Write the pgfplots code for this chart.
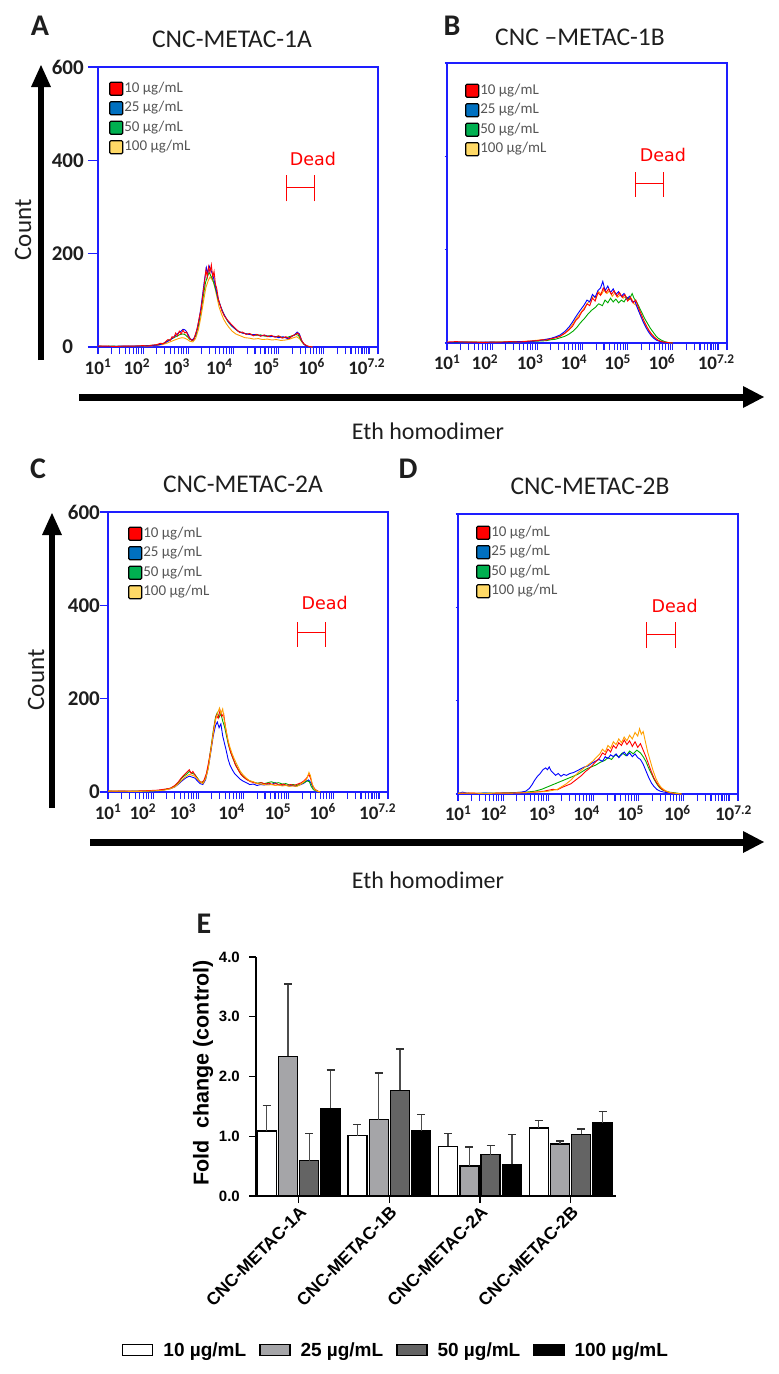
\documentclass[border=0pt]{standalone}
\usepackage{fontspec}
\setmainfont{Carlito}
\newfontfamily\arial{Liberation Sans}
\newfontfamily\dejavu{DejaVu Sans}
\usepackage{pgfplots}
\pgfplotsset{compat=1.18}
\definecolor{cRed}{RGB}{255,0,0}
\definecolor{cBlue}{RGB}{0,0,255}
\definecolor{cGreen}{RGB}{0,170,0}
\definecolor{cOrange}{RGB}{255,160,0}
\definecolor{lRed}{RGB}{255,0,0}
\definecolor{lBlue}{RGB}{0,112,192}
\definecolor{lGreen}{RGB}{0,176,80}
\definecolor{lYellow}{RGB}{255,217,102}
\definecolor{frameBlue}{RGB}{30,30,255}
\definecolor{g1}{RGB}{165,165,168}
\definecolor{g2}{RGB}{100,100,100}
\definecolor{txt}{RGB}{30,30,30}
\definecolor{legtxt}{RGB}{85,85,85}
\newcommand{\fs}[1]{\fontsize{#1}{#1}\selectfont}
\newcommand{\tl}[1]{10\textsuperscript{#1}}
\pgfplotsset{
  hist/.style={
    scale only axis, width=280pt, height=280pt,
    xmin=1, xmax=7.2, ymin=0, ymax=600,
    axis line style={frameBlue, line width=1.3pt},
    every tick/.style={frameBlue, line width=1.1pt},
    tick align=outside, xtick pos=bottom, ytick pos=left,
    major x tick style={draw=none},
    minor xtick={1,1.301,1.477,1.602,1.699,1.778,1.845,1.903,1.954,
      2,2.301,2.477,2.602,2.699,2.778,2.845,2.903,2.954,
      3,3.301,3.477,3.602,3.699,3.778,3.845,3.903,3.954,
      4,4.301,4.477,4.602,4.699,4.778,4.845,4.903,4.954,
      5,5.301,5.477,5.602,5.699,5.778,5.845,5.903,5.954,
      6,6.301,6.477,6.602,6.699,6.778,6.845,6.903,6.954,7,7.2},
    minor tick length=7pt,
    ytick={0,200,400,600},
    xticklabel style={font=\fs{19}\bfseries, text=txt, anchor=base, inner sep=0pt},
    yticklabel style={font=\fs{21}\bfseries, text=txt, inner sep=0pt},
    legend image code/.code={\draw[##1, draw=black, line width=1.1pt, rounded corners=1.2pt] (0pt,-6.5pt) rectangle (13pt,6.5pt);},
    legend style={draw=none, fill=none, anchor=north west, at={(axis description cs:0,1)}, inner sep=0pt,
      font=\fs{15}, text=legtxt, row sep=4.5pt, nodes={inner sep=1pt, text height=10pt, text depth=3pt}},
    legend cell align=left,
  },
  curve/.style={line width=0.9pt, forget plot},
  dead/.style={red, line width=1.2pt, forget plot},
}
\begin{document}
\begin{tikzpicture}
\useasboundingbox (0pt,0pt) rectangle (779pt,-1374pt);
% ---------------- labels and arrows
\node[font=\fs{30}\bfseries, anchor=base, text=txt] at (40pt,-35pt) {A};
\node[font=\fs{30}\bfseries, anchor=base, text=txt] at (452pt,-35pt) {B};
\node[font=\fs{30}\bfseries, anchor=base, text=txt] at (38pt,-478pt) {C};
\node[font=\fs{30}\bfseries, anchor=base, text=txt] at (408pt,-478pt) {D};
\node[font=\fs{30}\bfseries, anchor=base, text=txt] at (204pt,-933pt) {E};
\node[font=\fs{25.5}, anchor=base, text=txt] at (232pt,-47pt) {CNC-METAC-1A};
\node[font=\fs{25.5}, anchor=base, text=txt] at (580pt,-45pt) {CNC –METAC-1B};
\node[font=\fs{25.5}, anchor=base, text=txt] at (243pt,-492pt) {CNC-METAC-2A};
\node[font=\fs{25.5}, anchor=base, text=txt] at (590pt,-494pt) {CNC-METAC-2B};
\node[font=\fs{25}, rotate=90, text=txt] at (23pt,-230pt) {Count};
\node[font=\fs{25}, rotate=90, text=txt] at (36pt,-680pt) {Count};
\node[font=\fs{24}, text=txt] at (428pt,-431pt) {Eth homodimer};
\node[font=\fs{24}, text=txt] at (428pt,-880pt) {Eth homodimer};
\draw[line width=6.5pt] (41pt,-360pt) -- (41pt,-84pt);
\fill (31pt,-87pt) -- (41pt,-65pt) -- (51pt,-87pt) -- cycle;
\draw[line width=6.5pt] (52pt,-808pt) -- (52pt,-532pt);
\fill (42pt,-535pt) -- (52pt,-513pt) -- (62pt,-535pt) -- cycle;
\draw[line width=7pt] (79pt,-397pt) -- (746pt,-397pt);
\fill (743pt,-386pt) -- (764pt,-397pt) -- (743pt,-408pt) -- cycle;
\draw[line width=7pt] (90pt,-842pt) -- (746pt,-842pt);
\fill (743pt,-831pt) -- (764pt,-842pt) -- (743pt,-853pt) -- cycle;
\node[font=\arial\bfseries\fs{21.5}, rotate=90, text=black] at (203pt,-1073pt) {Fold\ \ change (control)};
% ---------------- Panel A
\begin{axis}[hist, at={(98pt,-347pt)}, anchor=south west, major tick length=10pt,
  xtick={1,1.86,2.74,3.69,4.73,5.73,6.95},
  xticklabels={\tl{1},\tl{2},\tl{3},\tl{4},\tl{5},\tl{6},\tl{7.2}},
  xticklabel style={yshift=-17pt},
  yticklabels={\makebox[40pt][c]{0},\makebox[40pt][c]{200},\makebox[40pt][c]{400},\makebox[40pt][c]{600}},
  legend style={xshift=11pt, yshift=-14pt}]
\addlegendimage{fill=lRed}\addlegendentry{10 µg/mL}
\addlegendimage{fill=lBlue}\addlegendentry{25 µg/mL}
\addlegendimage{fill=lGreen}\addlegendentry{50 µg/mL}
\addlegendimage{fill=lYellow}\addlegendentry{100 µg/mL}
\addplot[curve, cOrange] coordinates {(1,2)(1.3,1)(1.6,2)(1.9,1)(2.1,2)(2.3,3)(2.42,5)(2.52,8)(2.62,12)(2.7,15)(2.78,18)(2.86,20)(2.92,19)(2.98,16)(3.04,12)(3.1,11)(3.16,18)(3.22,36)(3.28,65)(3.34,100)(3.39,128)(3.44,142)(3.48,150)(3.52,145)(3.56,138)(3.6,122)(3.64,104)(3.68,86)(3.73,72)(3.78,60)(3.84,50)(3.9,42)(3.97,34)(4.05,28)(4.15,24)(4.25,20)(4.35,19)(4.45,17)(4.55,18)(4.65,16)(4.75,17)(4.85,15)(4.95,16)(5.05,14)(5.15,15)(5.25,17)(5.33,20)(5.4,22)(5.46,18)(5.52,10)(5.58,4)(5.66,1)(5.75,0)};
\addplot[curve, cGreen] coordinates {(1,1)(1.3,2)(1.6,1)(1.9,2)(2.1,3)(2.25,4)(2.38,6)(2.48,9)(2.56,14)(2.64,18)(2.72,22)(2.8,26)(2.86,28)(2.92,27)(2.98,22)(3.04,16)(3.1,14)(3.16,24)(3.22,45)(3.28,78)(3.33,108)(3.38,138)(3.42,150)(3.46,160)(3.5,152)(3.54,145)(3.58,132)(3.62,118)(3.66,102)(3.71,88)(3.76,76)(3.82,64)(3.88,54)(3.95,46)(4.02,40)(4.1,34)(4.2,30)(4.3,28)(4.4,27)(4.5,25)(4.6,26)(4.7,23)(4.8,24)(4.9,22)(5.0,23)(5.1,20)(5.2,21)(5.3,24)(5.38,27)(5.44,25)(5.5,14)(5.56,6)(5.62,2)(5.7,0)};
\addplot[curve, cBlue] coordinates {(1,2)(1.25,1)(1.5,2)(1.75,2)(2.0,2)(2.15,3)(2.3,4)(2.4,6)(2.5,10)(2.58,14)(2.66,20)(2.72,25)(2.78,30)(2.84,34)(2.88,38)(2.92,37)(2.96,33)(3.0,26)(3.04,18)(3.08,15)(3.12,18)(3.16,26)(3.2,42)(3.24,60)(3.28,85)(3.32,115)(3.36,145)(3.4,170)(3.43,158)(3.46,174)(3.5,165)(3.54,155)(3.58,140)(3.62,122)(3.66,104)(3.7,92)(3.75,78)(3.8,68)(3.86,58)(3.92,50)(3.98,44)(4.05,38)(4.12,33)(4.2,30)(4.3,28)(4.4,26)(4.5,27)(4.6,24)(4.7,25)(4.8,22)(4.9,23)(5.0,20)(5.1,22)(5.2,18)(5.28,22)(5.35,26)(5.41,32)(5.46,28)(5.51,14)(5.56,6)(5.62,2)(5.7,0)};
\addplot[curve, cRed] coordinates {(1,2)(1.2,2)(1.4,1)(1.6,2)(1.8,2)(2.0,3)(2.1,2)(2.2,4)(2.3,5)(2.38,8)(2.45,7)(2.5,12)(2.55,16)(2.6,14)(2.64,22)(2.68,20)(2.72,30)(2.76,24)(2.8,34)(2.84,28)(2.88,36)(2.92,30)(2.96,32)(3.0,22)(3.04,18)(3.08,14)(3.12,16)(3.16,28)(3.2,40)(3.24,62)(3.28,80)(3.32,110)(3.36,140)(3.39,165)(3.42,150)(3.45,172)(3.48,160)(3.51,176)(3.54,150)(3.57,162)(3.6,135)(3.63,125)(3.67,100)(3.71,88)(3.75,76)(3.8,66)(3.85,60)(3.9,54)(3.96,48)(4.02,42)(4.08,36)(4.14,31)(4.2,32)(4.28,27)(4.36,29)(4.44,24)(4.52,27)(4.6,23)(4.68,26)(4.76,22)(4.84,25)(4.92,21)(5.0,24)(5.08,19)(5.16,22)(5.24,18)(5.3,24)(5.36,26)(5.42,30)(5.47,24)(5.52,12)(5.57,6)(5.62,3)(5.68,1)(5.75,0)};
\addplot[dead] coordinates {(5.18,312)(5.18,368)};
\addplot[dead] coordinates {(5.80,312)(5.80,368)};
\addplot[dead] coordinates {(5.18,341)(5.80,341)};
\node[red, font=\dejavu\fs{17.5}, anchor=base] at (axis cs:5.76,389) {Dead};
\end{axis}
% ---------------- Panel B
\begin{axis}[hist, at={(447pt,-343pt)}, anchor=south west, major tick length=2.5pt,
  xtick={1,1.84,2.84,3.81,4.78,5.76,6.96},
  xticklabels={\tl{1},\tl{2},\tl{3},\tl{4},\tl{5},\tl{6},\tl{7.2}},
  xticklabel style={yshift=-24pt},
  yticklabels={},
  legend style={xshift=18pt, yshift=-20pt}]
\addlegendimage{fill=lRed}\addlegendentry{10 µg/mL}
\addlegendimage{fill=lBlue}\addlegendentry{25 µg/mL}
\addlegendimage{fill=lGreen}\addlegendentry{50 µg/mL}
\addlegendimage{fill=lYellow}\addlegendentry{100 µg/mL}
\addplot[curve, cOrange] coordinates {(1,2)(1.2,1)(1.4,2)(1.6,2)(1.8,2)(2.0,1)(2.2,2)(2.4,3)(2.6,3)(2.8,4)(3.0,6)(3.1,7)(3.2,8)(3.3,9)(3.4,12)(3.5,15)(3.6,21)(3.7,30)(3.78,40)(3.86,52)(3.94,62)(4.0,70)(4.06,78)(4.12,86)(4.18,92)(4.24,100)(4.3,96)(4.36,110)(4.42,104)(4.48,114)(4.54,106)(4.6,112)(4.66,100)(4.72,108)(4.78,98)(4.84,104)(4.9,96)(4.96,100)(5.02,92)(5.08,96)(5.14,84)(5.2,80)(5.26,66)(5.32,52)(5.38,40)(5.44,30)(5.5,21)(5.56,14)(5.62,9)(5.7,5)(5.78,2)(5.88,1)(5.95,0)};
\addplot[curve, cGreen] coordinates {(1,1)(1.2,1)(1.4,2)(1.6,2)(1.8,1)(2.0,2)(2.2,2)(2.4,2)(2.6,3)(2.8,3)(3.0,4)(3.2,5)(3.3,7)(3.4,8)(3.5,11)(3.6,14)(3.7,19)(3.8,26)(3.88,34)(3.96,44)(4.04,52)(4.12,62)(4.2,70)(4.28,76)(4.36,84)(4.44,80)(4.5,92)(4.56,86)(4.62,96)(4.68,88)(4.74,94)(4.8,86)(4.86,92)(4.92,88)(4.98,98)(5.04,94)(5.1,106)(5.14,96)(5.2,88)(5.26,76)(5.32,64)(5.38,52)(5.44,42)(5.5,32)(5.56,24)(5.62,16)(5.68,10)(5.75,6)(5.82,3)(5.9,1)(6.0,0)};
\addplot[curve, cBlue] coordinates {(1,1)(1.2,2)(1.4,2)(1.6,1)(1.8,2)(2.0,2)(2.2,1)(2.4,2)(2.6,3)(2.8,3)(3.0,5)(3.1,6)(3.2,8)(3.3,10)(3.4,13)(3.5,17)(3.6,24)(3.7,34)(3.78,45)(3.85,56)(3.92,66)(3.98,74)(4.04,82)(4.1,92)(4.16,88)(4.22,104)(4.28,98)(4.34,112)(4.4,118)(4.45,132)(4.5,112)(4.56,122)(4.62,108)(4.68,116)(4.74,104)(4.8,110)(4.86,100)(4.92,106)(4.98,94)(5.04,100)(5.1,88)(5.16,90)(5.22,74)(5.28,60)(5.34,46)(5.4,34)(5.46,24)(5.52,16)(5.58,10)(5.64,6)(5.72,3)(5.8,1)(5.9,0)};
\addplot[curve, cRed] coordinates {(1,2)(1.2,3)(1.4,2)(1.6,2)(1.8,1)(2.0,2)(2.2,2)(2.4,3)(2.6,2)(2.8,4)(3.0,5)(3.1,7)(3.2,6)(3.3,9)(3.4,11)(3.5,14)(3.6,20)(3.7,28)(3.78,36)(3.85,48)(3.92,55)(3.98,66)(4.04,72)(4.1,84)(4.16,80)(4.22,96)(4.28,90)(4.34,108)(4.4,102)(4.46,118)(4.52,108)(4.58,116)(4.64,104)(4.7,112)(4.76,100)(4.82,108)(4.88,98)(4.94,104)(5.0,90)(5.06,98)(5.12,86)(5.18,92)(5.24,76)(5.3,62)(5.36,48)(5.42,36)(5.48,26)(5.54,18)(5.6,12)(5.66,7)(5.72,4)(5.8,2)(5.9,1)(6.0,0)};
\addplot[dead] coordinates {(5.18,313)(5.18,366)};
\addplot[dead] coordinates {(5.80,313)(5.80,366)};
\addplot[dead] coordinates {(5.18,341)(5.80,341)};
\node[red, font=\dejavu\fs{17.5}, anchor=base] at (axis cs:5.78,388) {Dead};
\end{axis}
% ---------------- Panel C
\begin{axis}[hist, at={(108pt,-792pt)}, anchor=south west, major tick length=8pt,
  xtick={1,1.77,2.66,3.74,4.76,5.75,6.97},
  xticklabels={\tl{1},\tl{2},\tl{3},\tl{4},\tl{5},\tl{6},\tl{7.2}},
  xticklabel style={yshift=-19pt},
  yticklabels={0,200,400,600},
  legend style={xshift=20pt, yshift=-14pt}]
\addlegendimage{fill=lRed}\addlegendentry{10 µg/mL}
\addlegendimage{fill=lBlue}\addlegendentry{25 µg/mL}
\addlegendimage{fill=lGreen}\addlegendentry{50 µg/mL}
\addlegendimage{fill=lYellow}\addlegendentry{100 µg/mL}
\addplot[curve, cBlue] coordinates {(1,1)(1.3,2)(1.6,1)(1.9,2)(2.1,3)(2.25,5)(2.38,7)(2.48,11)(2.56,17)(2.64,24)(2.72,30)(2.8,34)(2.86,32)(2.92,30)(2.98,24)(3.04,18)(3.1,16)(3.16,26)(3.22,52)(3.28,88)(3.33,120)(3.38,142)(3.42,150)(3.46,138)(3.5,146)(3.54,120)(3.58,104)(3.62,88)(3.66,70)(3.7,58)(3.75,48)(3.8,40)(3.86,34)(3.92,28)(3.98,24)(4.06,20)(4.14,16)(4.22,17)(4.3,14)(4.38,16)(4.46,15)(4.54,17)(4.62,16)(4.7,20)(4.76,16)(4.84,14)(4.92,15)(5.0,13)(5.08,14)(5.16,12)(5.24,15)(5.32,18)(5.38,22)(5.44,26)(5.49,20)(5.54,10)(5.6,4)(5.66,1)(5.72,0)};
\addplot[curve, cGreen] coordinates {(1,2)(1.3,1)(1.6,2)(1.9,2)(2.1,3)(2.25,5)(2.38,8)(2.48,13)(2.56,20)(2.62,28)(2.68,34)(2.74,38)(2.8,44)(2.86,40)(2.92,38)(2.98,30)(3.04,22)(3.1,20)(3.16,30)(3.22,55)(3.28,95)(3.33,130)(3.38,160)(3.42,170)(3.46,160)(3.5,168)(3.54,152)(3.58,140)(3.62,122)(3.66,104)(3.7,90)(3.75,76)(3.8,64)(3.86,52)(3.92,42)(3.98,34)(4.06,28)(4.14,24)(4.22,21)(4.3,19)(4.38,20)(4.46,18)(4.54,20)(4.62,22)(4.7,19)(4.78,20)(4.86,17)(4.94,18)(5.02,15)(5.1,16)(5.18,14)(5.26,17)(5.34,20)(5.4,24)(5.46,22)(5.5,12)(5.55,5)(5.62,2)(5.7,0)};
\addplot[curve, cRed] coordinates {(1,2)(1.3,2)(1.6,2)(1.9,3)(2.1,4)(2.25,6)(2.38,8)(2.48,14)(2.56,22)(2.62,30)(2.68,36)(2.74,42)(2.8,48)(2.84,40)(2.88,44)(2.94,34)(3.0,26)(3.06,20)(3.12,24)(3.18,40)(3.24,70)(3.3,105)(3.35,140)(3.4,165)(3.44,158)(3.48,175)(3.52,162)(3.56,168)(3.6,140)(3.64,118)(3.68,98)(3.72,84)(3.77,72)(3.82,58)(3.88,48)(3.94,38)(4.0,32)(4.08,26)(4.16,22)(4.24,20)(4.32,18)(4.4,20)(4.48,17)(4.56,19)(4.64,16)(4.72,18)(4.8,15)(4.88,17)(4.96,14)(5.04,16)(5.12,14)(5.2,17)(5.28,20)(5.34,24)(5.4,30)(5.45,38)(5.49,28)(5.53,14)(5.58,6)(5.64,2)(5.7,0)};
\addplot[curve, cOrange] coordinates {(1,2)(1.3,2)(1.6,1)(1.9,2)(2.1,3)(2.25,4)(2.38,7)(2.48,11)(2.56,18)(2.62,24)(2.68,30)(2.74,34)(2.8,38)(2.86,36)(2.92,34)(2.98,28)(3.04,22)(3.1,18)(3.16,28)(3.22,50)(3.28,90)(3.33,125)(3.38,155)(3.43,170)(3.47,180)(3.5,168)(3.54,178)(3.58,150)(3.62,130)(3.66,110)(3.7,96)(3.75,82)(3.8,70)(3.86,58)(3.92,46)(3.98,38)(4.06,30)(4.14,24)(4.22,22)(4.3,18)(4.38,17)(4.46,16)(4.54,15)(4.62,16)(4.7,14)(4.78,15)(4.86,13)(4.94,14)(5.02,12)(5.1,13)(5.18,12)(5.26,16)(5.34,22)(5.4,28)(5.45,42)(5.48,36)(5.52,18)(5.57,6)(5.63,2)(5.7,0)};
\addplot[dead] coordinates {(5.20,311)(5.20,365)};
\addplot[dead] coordinates {(5.82,311)(5.82,365)};
\addplot[dead] coordinates {(5.20,341)(5.82,341)};
\node[red, font=\dejavu\fs{17.5}, anchor=base] at (axis cs:5.80,391) {Dead};
\end{axis}
% ---------------- Panel D
\begin{axis}[hist, at={(458pt,-794pt)}, anchor=south west, major tick length=2.5pt,
  xtick={1,1.79,2.86,3.85,4.82,5.86,7.1},
  xticklabels={\tl{1},\tl{2},\tl{3},\tl{4},\tl{5},\tl{6},\tl{7.2}},
  xticklabel style={yshift=-24pt},
  yticklabels={},
  legend style={xshift=18pt, yshift=-11pt}]
\addlegendimage{fill=lRed}\addlegendentry{10 µg/mL}
\addlegendimage{fill=lBlue}\addlegendentry{25 µg/mL}
\addlegendimage{fill=lGreen}\addlegendentry{50 µg/mL}
\addlegendimage{fill=lYellow}\addlegendentry{100 µg/mL}
\addplot[curve, cGreen] coordinates {(1,2)(1.3,1)(1.6,2)(1.9,2)(2.2,3)(2.5,4)(2.7,6)(2.85,10)(2.95,14)(3.05,18)(3.15,22)(3.25,26)(3.35,30)(3.45,34)(3.55,38)(3.65,42)(3.75,48)(3.85,54)(3.95,58)(4.05,62)(4.15,68)(4.25,72)(4.32,78)(4.4,74)(4.48,84)(4.56,80)(4.64,88)(4.72,82)(4.8,92)(4.88,86)(4.96,94)(5.04,88)(5.1,80)(5.16,70)(5.22,56)(5.28,44)(5.34,32)(5.4,22)(5.46,14)(5.52,9)(5.6,6)(5.68,4)(5.76,3)(5.85,2)(5.95,0)};
\addplot[curve, cBlue] coordinates {(1,1)(1.1,4)(1.2,2)(1.4,1)(1.6,2)(1.8,1)(2.0,2)(2.2,2)(2.4,4)(2.5,6)(2.58,12)(2.64,20)(2.7,30)(2.76,38)(2.82,44)(2.88,52)(2.94,56)(2.98,52)(3.02,58)(3.06,50)(3.1,46)(3.16,40)(3.22,44)(3.28,38)(3.34,42)(3.4,40)(3.48,44)(3.56,46)(3.64,50)(3.72,54)(3.8,58)(3.88,60)(3.96,66)(4.04,70)(4.12,74)(4.2,70)(4.26,80)(4.32,76)(4.38,84)(4.44,80)(4.5,86)(4.56,78)(4.62,84)(4.68,90)(4.74,82)(4.8,88)(4.86,80)(4.92,86)(4.98,78)(5.04,74)(5.1,64)(5.16,50)(5.22,36)(5.28,24)(5.34,16)(5.4,10)(5.48,6)(5.56,4)(5.64,3)(5.72,2)(5.8,1)(5.9,0)};
\addplot[curve, cRed] coordinates {(1,1)(1.3,2)(1.6,1)(1.9,2)(2.2,2)(2.5,3)(2.7,4)(2.9,6)(3.0,8)(3.1,10)(3.2,9)(3.3,14)(3.4,18)(3.5,22)(3.58,28)(3.66,34)(3.74,40)(3.82,48)(3.9,54)(3.98,62)(4.06,70)(4.14,78)(4.2,88)(4.26,84)(4.32,96)(4.38,90)(4.44,104)(4.5,98)(4.56,110)(4.62,104)(4.68,116)(4.74,106)(4.8,114)(4.86,102)(4.92,112)(4.98,100)(5.04,108)(5.1,94)(5.16,80)(5.22,64)(5.28,48)(5.34,34)(5.4,24)(5.46,16)(5.52,10)(5.6,6)(5.68,3)(5.76,2)(5.85,1)(5.95,0)};
\addplot[curve, cOrange] coordinates {(1,2)(1.3,2)(1.6,1)(1.9,2)(2.2,2)(2.5,3)(2.7,4)(2.9,5)(3.0,6)(3.1,8)(3.2,10)(3.3,16)(3.4,22)(3.5,30)(3.58,38)(3.66,46)(3.74,52)(3.82,58)(3.9,64)(3.98,70)(4.06,78)(4.14,86)(4.2,96)(4.26,90)(4.32,104)(4.38,98)(4.44,112)(4.5,106)(4.56,118)(4.62,110)(4.68,122)(4.74,114)(4.8,126)(4.86,118)(4.92,132)(4.98,124)(5.02,140)(5.06,128)(5.1,134)(5.15,112)(5.2,90)(5.26,70)(5.32,50)(5.38,34)(5.44,22)(5.5,14)(5.58,8)(5.66,4)(5.76,2)(5.86,1)(5.95,0)};
\addplot[dead] coordinates {(5.17,313)(5.17,369)};
\addplot[dead] coordinates {(5.81,313)(5.81,369)};
\addplot[dead] coordinates {(5.17,341)(5.81,341)};
\node[red, font=\dejavu\fs{17.5}, anchor=base] at (axis cs:5.80,390) {Dead};
\end{axis}
% ---------------- Panel E
\begin{axis}[at={(256pt,-1196pt)}, anchor=south west, scale only axis, width=360pt, height=239pt,
  xmin=-0.47, xmax=3.5, ymin=0, ymax=4,
  axis x line*=bottom, axis y line*=left,
  axis line style={black, line width=1.4pt},
  every tick/.style={black, line width=1.3pt}, tick align=outside, major tick length=7pt,
  xtick={0,1,2,3},
  xticklabels={CNC-METAC-1A,CNC-METAC-1B,CNC-METAC-2A,CNC-METAC-2B},
  xticklabel style={font=\arial\bfseries\fs{17.5}, rotate=45, anchor=north east, inner sep=1pt},
  ytick={0,1,2,3,4}, yticklabels={0.0,1.0,2.0,3.0,4.0},
  yticklabel style={font=\arial\bfseries\fs{15}, inner sep=0pt, xshift=-9pt},
  legend image code/.code={\draw[#1, draw=black, line width=1.3pt] (0pt,-5.5pt) rectangle (30pt,5.5pt);},
  legend columns=4,
  legend style={draw=none, fill=none, at={(axis description cs:0.389,-0.644)}, anchor=center,
    font=\arial\bfseries\fs{19}, /tikz/every odd column/.append style={column sep=8pt},
    /tikz/every even column/.append style={column sep=11pt}},
  ]
\addlegendimage{fill=white}\addlegendentry{10 µg/mL}
\addlegendimage{fill=g1}\addlegendentry{25 µg/mL}
\addlegendimage{fill=g2}\addlegendentry{50 µg/mL}
\addlegendimage{fill=black}\addlegendentry{100 µg/mL}
\addplot[ybar, bar width=0.21, bar shift=0pt, fill=white, draw=black, line width=1.3pt, forget plot,
  error bars/.cd, y dir=plus, y explicit, error bar style={black!70, line width=1.2pt},
  error mark options={rotate=90, mark size=4pt, black!80, line width=1.2pt}]
  coordinates {(-0.352,1.09) +- (0,0.42) (0.648,1.01) +- (0,0.19) (1.648,0.83) +- (0,0.21) (2.648,1.14) +- (0,0.12)};
\addplot[ybar, bar width=0.21, bar shift=0pt, fill=g1, draw=black, line width=1.3pt, forget plot,
  error bars/.cd, y dir=plus, y explicit, error bar style={black!70, line width=1.2pt},
  error mark options={rotate=90, mark size=4pt, black!80, line width=1.2pt}]
  coordinates {(-0.117,2.34) +- (0,1.21) (0.883,1.28) +- (0,0.78) (1.883,0.50) +- (0,0.32) (2.883,0.87) +- (0,0.05)};
\addplot[ybar, bar width=0.21, bar shift=0pt, fill=g2, draw=black, line width=1.3pt, forget plot,
  error bars/.cd, y dir=plus, y explicit, error bar style={black!70, line width=1.2pt},
  error mark options={rotate=90, mark size=4pt, black!80, line width=1.2pt}]
  coordinates {(0.117,0.59) +- (0,0.46) (1.117,1.77) +- (0,0.69) (2.117,0.69) +- (0,0.15) (3.117,1.03) +- (0,0.09)};
\addplot[ybar, bar width=0.21, bar shift=0pt, fill=black, draw=black, line width=1.3pt, forget plot,
  error bars/.cd, y dir=plus, y explicit, error bar style={black!70, line width=1.2pt},
  error mark options={rotate=90, mark size=4pt, black!80, line width=1.2pt}]
  coordinates {(0.352,1.47) +- (0,0.64) (1.352,1.09) +- (0,0.28) (2.352,0.53) +- (0,0.50) (3.352,1.23) +- (0,0.19)};
\end{axis}
\end{tikzpicture}
\end{document}
